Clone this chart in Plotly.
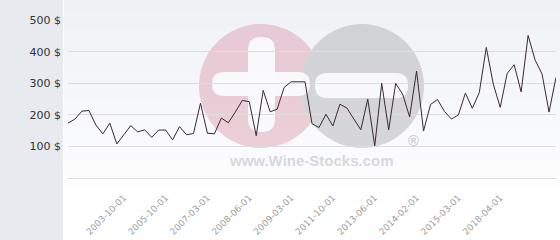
import math
import plotly.graph_objects as go

# ---- data ----
prices = [174, 187, 212, 214, 168, 140, 174, 108, 137, 166,
          146, 153, 129, 152, 152, 121, 163, 137, 141, 237,
          142, 140, 190, 175, 209, 246, 242, 134, 278, 210,
          218, 287, 305, 305, 305, 172, 160, 202, 165, 234,
          222, 187, 153, 250, 102, 300, 153, 300, 266, 194,
          339, 149, 233, 249, 211, 187, 200, 269, 221, 271,
          414, 298, 224, 332, 359, 273, 452, 374, 330, 209, 319]
point_index = list(range(len(prices)))
tick_positions = [8, 14, 20, 26, 32, 38, 44, 50, 56, 62]
tick_labels = ["2003-10-01", "2005-10-01", "2007-03-01", "2008-06-01", "2009-03-01",
               "2011-10-01", "2013-06-01", "2014-02-01", "2015-03-01", "2018-04-01"]
y_ticks = [100, 200, 300, 400, 500]
y_tick_labels = [f"{v} $" for v in y_ticks]

W, H = 560, 240
L, R, T, B = 68, 4, 20, 62
pw, ph = W - L - R, H - T - B


def px(x):
    return (x - L) / pw


def py(y):
    return (H - B - y) / ph


def pt(x, y):
    return "%.5f,%.5f" % (px(x), py(y))


shapes = []
# left panel
shapes.append(dict(type="rect", xref="paper", yref="paper", layer="below",
                   x0=px(0), x1=px(63), y0=py(0), y1=py(H),
                   fillcolor="#e7eaee", line_width=0))
# gradient background on the right
n = 40
top = (239, 241, 246)
bot = (255, 255, 255)
gend = 215
for i in range(n):
    y0 = gend * i / n
    y1 = gend * (i + 1) / n + 0.5
    f = i / (n - 1)
    c = tuple(round(top[k] + (bot[k] - top[k]) * f) for k in range(3))
    shapes.append(dict(type="rect", xref="paper", yref="paper", layer="below",
                       x0=px(64), x1=px(W), y0=py(y0), y1=py(y1),
                       fillcolor="rgb(%d,%d,%d)" % c, line_width=0))

# watermark: pink crescent (pink circle minus grey circle) + grey circle
pcx, pcy, gcx, gcy, rad = 261, 86, 362, 86, 62
dx = gcx - pcx
mx = pcx + dx / 2
hh = math.sqrt(rad ** 2 - (dx / 2) ** 2)
a_top = math.atan2(-hh, mx - pcx)   # screen coords: y down
a_bot = math.atan2(hh, mx - pcx)
seg = []
m = 60
for i in range(m + 1):
    a = a_top - (2 * math.pi - (a_bot - a_top)) * i / m
    seg.append((pcx + rad * math.cos(a), pcy + rad * math.sin(a)))
g_bot = math.atan2(hh, mx - gcx)
g_top = math.atan2(-hh, mx - gcx) + 2 * math.pi
for i in range(m + 1):
    a = g_bot + (g_top - g_bot) * i / m
    seg.append((gcx + rad * math.cos(a), gcy + rad * math.sin(a)))
crescent = "M" + " L".join(pt(x, y) for x, y in seg) + " Z"
shapes.append(dict(type="path", xref="paper", yref="paper", layer="between",
                   path=crescent, fillcolor="rgba(215,140,160,0.40)", line_width=0))
shapes.append(dict(type="circle", xref="paper", yref="paper", layer="between",
                   x0=px(gcx - rad), x1=px(gcx + rad), y0=py(gcy + rad), y1=py(gcy - rad),
                   fillcolor="rgba(170,170,174,0.45)", line_width=0))


def rrect(x0, y0, x1, y1, r, color):
    d = "M" + pt(x0 + r, y0)
    d += " L" + pt(x1 - r, y0) + " Q" + pt(x1, y0) + " " + pt(x1, y0 + r)
    d += " L" + pt(x1, y1 - r) + " Q" + pt(x1, y1) + " " + pt(x1 - r, y1)
    d += " L" + pt(x0 + r, y1) + " Q" + pt(x0, y1) + " " + pt(x0, y1 - r)
    d += " L" + pt(x0, y0 + r) + " Q" + pt(x0, y0) + " " + pt(x0 + r, y0) + " Z"
    return dict(type="path", xref="paper", yref="paper", layer="between",
                path=d, fillcolor=color, line_width=0)


shapes.append(rrect(212, 72, 310, 96, 12, "rgba(250,250,252,0.95)"))
shapes.append(rrect(248, 37, 275, 132, 13, "rgba(250,250,252,0.95)"))
shapes.append(rrect(315, 73, 408, 98, 12, "rgba(250,250,252,0.95)"))

annotations = [
    dict(text="<b>www.Wine-Stocks.com</b>", xref="paper", yref="paper",
         x=px(311), y=py(160), showarrow=False,
         font=dict(family="Liberation Sans", size=15, color="rgba(200,200,204,0.7)"),
         xanchor="center", yanchor="middle"),
    dict(text="<b>®</b>", xref="paper", yref="paper", x=px(413), y=py(140), showarrow=False,
         font=dict(family="Liberation Sans", size=15, color="rgba(190,190,194,0.75)"),
         xanchor="center", yanchor="middle"),
]

fig = go.Figure()
fig.add_trace(go.Scatter(x=point_index, y=prices, mode="lines",
                         line=dict(color="#3a2833", width=1), hoverinfo="skip"))

fig.update_layout(
    width=W, height=H,
    margin=dict(l=L, r=R, t=T, b=B, pad=0),
    paper_bgcolor="white", plot_bgcolor="rgba(0,0,0,0)",
    showlegend=False,
    shapes=shapes, annotations=annotations,
    xaxis=dict(range=[0, len(prices) - 1], tickmode="array",
               tickvals=tick_positions, ticktext=tick_labels,
               tickangle=-45, showgrid=False, zeroline=False,
               showline=True, linecolor="#dddddd", linewidth=1,
               ticks="", ticklabelstandoff=10,
               tickfont=dict(family="DejaVu Sans", size=9, color="#a0a0a0")),
    yaxis=dict(range=[0, 501], tickmode="array", tickvals=y_ticks,
               ticktext=y_tick_labels, showgrid=True, gridcolor="#dddddd",
               gridwidth=1, zeroline=False, showline=False, ticks="",
               ticklabelstandoff=6,
               tickfont=dict(family="DejaVu Sans", size=11, color="#333333")),
)

fig.write_html("out.html")
